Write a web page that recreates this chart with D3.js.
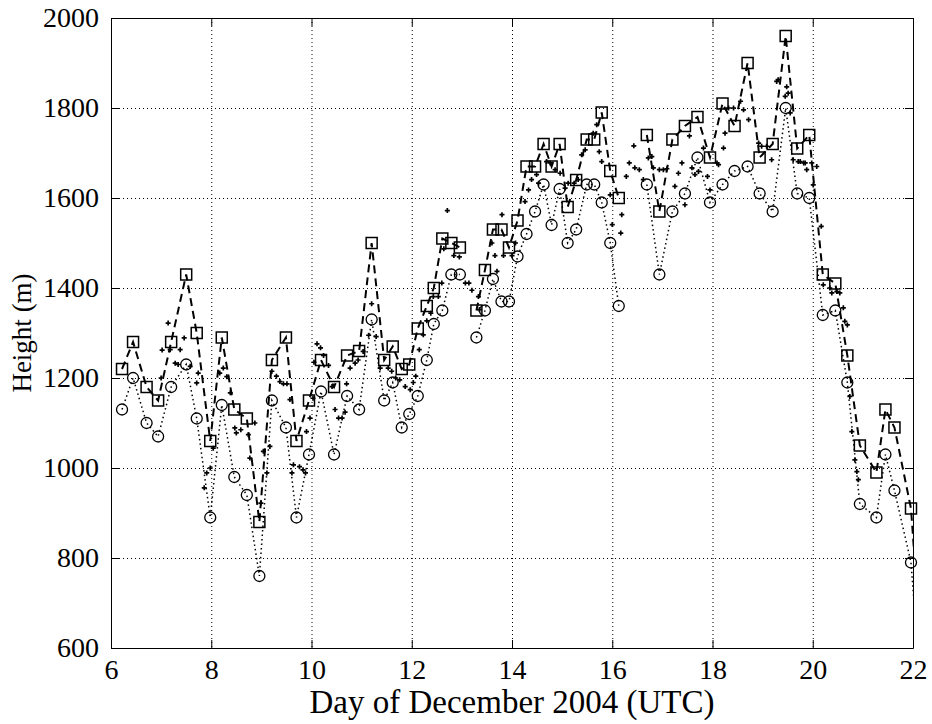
<!DOCTYPE html>
<html>
<head>
<meta charset="utf-8">
<script src="https://cdn.jsdelivr.net/npm/d3@7"></script>
<style>
    body { margin: 0; background: #fff; }
    svg text { font-family: "Liberation Serif", "Times New Roman", serif; fill: #000; }
</style>
</head>
<body>
<div class="chart_frame"></div>
<script>
// six-hourly samples shared by the square and circle series (null = no data)
var times = [6.22, 6.44, 6.71, 6.94, 7.20, 7.50, 7.71, 7.98, 8.21, 8.46, 8.71, 8.96, 9.21, 9.49, 9.70, 9.95,
    10.19, 10.45, 10.71, 10.95, 11.20, 11.45, 11.62, 11.80, 11.95, 12.12, 12.30, 12.44, 12.61, 12.79, 12.96,
    13.12,
    13.29, 13.46, 13.62, 13.79, 13.94, 14.11, 14.29, 14.46, 14.63, 14.79, 14.95, 15.11, 15.28, 15.49, 15.64,
    15.79, 15.96, 16.13,
    16.41,
    16.69, 16.94, 17.20, 17.45, 17.70, 17.95, 18.20, 18.44, 18.70, 18.94, 19.20, 19.46, 19.69, 19.93, 20.20,
    20.45, 20.69, 20.94, 21.27, 21.45, 21.63, 21.96, 22.16];

var squareHeights = [1220, 1280, 1180, 1150, 1280, 1430, 1300, 1060, 1290, 1130, 1110, 880, 1240, 1290, 1060, 1150,
    1240, 1180, 1250, 1260, 1500, 1240, 1270, 1220, 1230, 1310, 1360, 1400, 1510, 1500, 1490,
    null,
    1350, 1440, 1530, 1530, 1490, 1550, 1670, 1670, 1720, 1670, 1720, 1580, 1640, 1730, 1730,
    1790, 1660, 1600,
    null,
    1740, 1570, 1730, 1760, 1780, 1690, 1810, 1760, 1900, 1690, 1720, 1960, 1710, 1740, 1430,
    1410, 1250, 1050, 990, 1130, 1090, 910, 600];

var circleHeights = [1130, 1200, 1100, 1070, 1180, 1230, 1110, 890, 1140, 980, 940, 760, 1150, 1090, 890, 1030,
    1170, 1030, 1160, 1130, 1330, 1150, 1190, 1090, 1120, 1160, 1240, 1320, 1350, 1430, 1430,
    null,
    1290, 1350, 1420, 1370, 1370, 1470, 1520, 1570, 1630, 1540, 1620, 1500, 1530, 1630, 1630,
    1590, 1500, 1360,
    null,
    1630, 1430, 1570, 1610, 1690, 1590, 1630, 1660, 1670, 1610, 1570, 1800, 1610, 1600, 1340,
    1350, 1190, 920, 890, 1030, 950, 790, 500];

// denser point series
var dotTimes = [7.00, 7.02, 7.14, 7.18, 7.28, 7.34, 7.38, 7.46, 7.58, 7.71, 7.74, 7.86, 7.91, 7.98, 8.04, 8.17,
    8.24, 8.31, 8.38, 8.47, 8.50, 8.59, 8.74, 8.77, 8.87, 8.99, 9.04, 9.11, 9.17, 9.21, 9.30, 9.37, 9.44, 9.51,
    9.57, 9.61, 9.64, 9.76, 9.83, 9.88, 9.90, 9.97, 10.03, 10.05, 10.11, 10.18, 10.24, 10.34, 10.41, 10.47,
    10.54, 10.61, 10.67, 10.70, 10.77, 10.87, 10.93, 11.03, 11.14, 11.20, 11.29, 11.37, 11.53, 11.60, 11.68,
    11.76, 11.87, 11.97, 12.03, 12.08, 12.15, 12.23, 12.30, 12.38, 12.43, 12.53, 12.60, 12.64, 12.71, 12.84,
    12.95, 13.07, 13.14, 13.20, 13.33, 13.35, 13.60, 13.66, 13.70, 13.80, 13.83, 14.00, 14.07, 14.26, 14.33,
    14.39, 14.49, 14.53, 14.69, 14.76, 14.86, 14.96, 15.06, 15.12, 15.24, 15.32, 15.39, 15.46, 15.62, 15.69,
    15.74, 15.79, 15.96, 16.00, 16.17, 16.19, 16.28, 16.34, 16.43, 16.45, 16.54, 16.62, 16.72, 16.79, 16.82,
    16.94, 17.02, 17.09, 17.25, 17.32, 17.39, 17.45, 17.54, 17.59, 17.65, 17.72, 17.82, 17.90, 17.95, 18.09,
    18.12, 18.22, 18.25, 18.32, 18.42, 18.56, 18.62, 18.72, 18.92, 18.98, 19.08, 19.18, 19.28, 19.31, 19.45,
    19.48, 19.51, 19.55, 19.61, 19.71, 19.75, 19.82, 19.85, 19.88, 19.98, 20.01, 20.08, 20.17, 20.21, 20.34,
    20.38, 20.48, 20.54, 20.61, 20.64, 20.69, 20.74, 20.78, 20.84, 20.88, 20.91];

var dotHeights = [1200, 1262, 1322, 1263, 1233, 1230, 1263, 1289, 1226, 1189, 1211, 956, 989, 1000, 1044, 1211,
    1222, 1203, 1167, 1089, 1078, 1085, 1074, 1022, 1100, 922, 1037, 989, 1048, 1215, 1204, 1192, 1187, 1187,
    1152, 989, 1007, 1003, 996, 989, 1081, 1111, 1155, 1235, 1276, 1267, 1250, 1228, 1181, 1130,
    1111, 1111, 1124, 1187, 1222, 1233, 1240, 1259, 1295, 1365, 1292, 1222, 1222, 1215, 1200,
    1196, 1181, 1174, 1190, 1204, 1263, 1296, 1327, 1344, 1381, 1381, 1411, 1487, 1572, 1472,
    1469, 1411, 1411, 1395, 1381, 1352, 1500, 1472, 1437, 1563, 1472, 1472, 1500, 1592, 1618,
    1641, 1652, 1633, 1681, 1678, 1663, 1655, 1622, 1633, 1633, 1641, 1696, 1707, 1744, 1763,
    1703, 1681, 1607, 1541, 1522, 1563, 1648, 1678, 1716, 1667, 1663, 1641, 1689, 1692, 1667,
    1663, 1663, 1665, 1626, 1655, 1678, 1585, 1738, 1667, 1652, 1659, 1711, 1648, 1618, 1678,
    1674, 1711, 1744, 1800, 1800, 1815, 1796, 1774, 1722, 1715, 1715, 1685, 1859, 1863, 1826,
    1847, 1833, 1789, 1685, 1681, 1681, 1678, 1678, 1663, 1678, 1629, 1670, 1537, 1407, 1400,
    1389, 1392, 1389, 1356, 1326, 1318, 1159, 1081, 1018, 992, 974];

var xTicks = [6, 8, 10, 12, 14, 16, 18, 20, 22];
var yTicks = [600, 800, 1000, 1200, 1400, 1600, 1800, 2000];
var xLabel = 'Day of December 2004 (UTC)';
var yLabel = 'Height (m)';

function plot() {
    var svg_width = 932, svg_height = 724,
        margin = {'top': 18, 'left': 111, 'right': 19, 'bottom': 76},
        width = svg_width - margin.left - margin.right,
        height = svg_height - margin.top - margin.bottom,
        tick_len = 8;

    var x = d3.scaleLinear().domain([6, 22]).range([0, width]),
        y = d3.scaleLinear().domain([600, 2000]).range([height, 0]);

    var svg = d3.select('.chart_frame').append('svg')
        .attr('width', svg_width)
        .attr('height', svg_height);

    svg.append('defs').append('clipPath').attr('id', 'clip')
        .append('rect')
        .attr('x', 0).attr('y', 0)
        .attr('width', width).attr('height', height);

    var chart = svg.append('g')
        .attr('transform', 'translate(' + margin.left + ',' + margin.top + ')');

    // grid
    var grid = chart.append('g').attr('class', 'grid')
        .attr('stroke', '#000').attr('stroke-width', 1).attr('stroke-dasharray', '1,3');
    grid.selectAll('.gx').data(xTicks.slice(1, -1)).enter().append('line')
        .attr('x1', function(d) { return x(d) + 0.5; }).attr('x2', function(d) { return x(d) + 0.5; })
        .attr('y1', 0).attr('y2', height);
    grid.selectAll('.gy').data(yTicks.slice(1, -1)).enter().append('line')
        .attr('x1', 0).attr('x2', width)
        .attr('y1', function(d) { return y(d) + 0.5; }).attr('y2', function(d) { return y(d) + 0.5; });

    // axes: ticks pointing inward, mirrored on every side
    var fmt = d3.format('d');
    var bottomAxis = d3.axisBottom(x).tickValues(xTicks).tickFormat(fmt).tickSizeInner(-tick_len).tickSizeOuter(0).tickPadding(11),
        topAxis = d3.axisTop(x).tickValues(xTicks).tickSizeInner(-tick_len).tickSizeOuter(0).tickFormat(''),
        leftAxis = d3.axisLeft(y).tickValues(yTicks).tickFormat(fmt).tickSizeInner(-tick_len).tickSizeOuter(0).tickPadding(12),
        rightAxis = d3.axisRight(y).tickValues(yTicks).tickSizeInner(-tick_len).tickSizeOuter(0).tickFormat('');

    chart.append('g').attr('transform', 'translate(0,' + height + ')').call(bottomAxis);
    chart.append('g').call(topAxis);
    chart.append('g').call(leftAxis);
    chart.append('g').attr('transform', 'translate(' + width + ',0)').call(rightAxis);

    chart.selectAll('.domain').attr('stroke', '#000').attr('stroke-width', 1);
    chart.selectAll('.tick line').attr('stroke', '#000');
    chart.selectAll('.tick text')
        .style('font-family', '"Liberation Serif", "Times New Roman", serif')
        .style('font-size', '28px')
        .attr('fill', '#000');

    chart.append('text')
        .attr('x', width / 2).attr('y', height + 65)
        .attr('text-anchor', 'middle')
        .style('font-size', '33px')
        .text(xLabel);

    chart.append('text')
        .attr('transform', 'translate(' + (-80) + ',' + (height / 2) + ') rotate(-90)')
        .attr('text-anchor', 'middle')
        .style('font-size', '27px')
        .text(yLabel);

    // series
    var squares = times.map(function(t, i) { return {t: t, v: squareHeights[i]}; }),
        circles = times.map(function(t, i) { return {t: t, v: circleHeights[i]}; }),
        dots = dotTimes.map(function(t, i) { return {t: t, v: dotHeights[i]}; });

    var line = d3.line()
        .defined(function(d) { return d.v !== null; })
        .x(function(d) { return x(d.t); })
        .y(function(d) { return y(d.v); });

    var data_layer = chart.append('g').attr('clip-path', 'url(#clip)');

    data_layer.append('path')
        .datum(circles)
        .attr('fill', 'none')
        .attr('stroke', '#000')
        .attr('stroke-width', 1.5)
        .attr('stroke-dasharray', '1.5,3')
        .attr('d', line);

    data_layer.append('path')
        .datum(squares)
        .attr('fill', 'none')
        .attr('stroke', '#000')
        .attr('stroke-width', 2)
        .attr('stroke-dasharray', '8,5')
        .attr('d', line);

    function inside(d) { return d.v !== null && d.t <= 22; }

    chart.append('g').selectAll('path')
        .data(dots).enter().append('path')
        .attr('transform', function(d) { return 'translate(' + x(d.t) + ',' + y(d.v) + ')'; })
        .attr('d', d3.symbol().type(d3.symbolCross).size(14))
        .attr('fill', '#000');

    chart.append('g').selectAll('circle')
        .data(circles.filter(inside)).enter().append('circle')
        .attr('cx', function(d) { return x(d.t); })
        .attr('cy', function(d) { return y(d.v); })
        .attr('r', 5.5)
        .attr('fill', 'none')
        .attr('stroke', '#000')
        .attr('stroke-width', 1.3);

    chart.append('g').selectAll('rect')
        .data(squares.filter(inside)).enter().append('rect')
        .attr('x', function(d) { return x(d.t) - 5.5; })
        .attr('y', function(d) { return y(d.v) - 5.5; })
        .attr('width', 11)
        .attr('height', 11)
        .attr('fill', 'none')
        .attr('stroke', '#000')
        .attr('stroke-width', 1.5);
}

plot();
</script>
</body>
</html>
